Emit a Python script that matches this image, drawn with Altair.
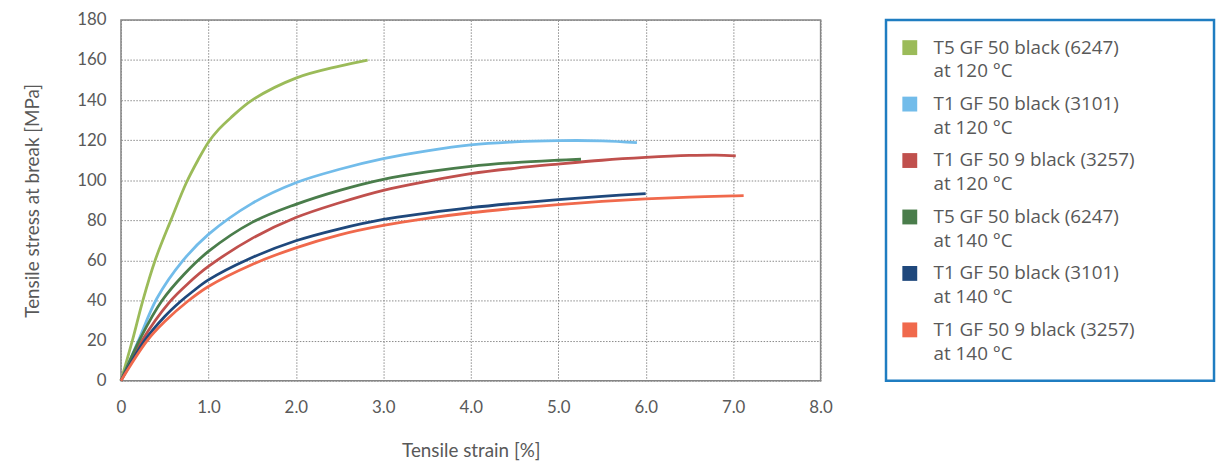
import altair as alt
import pandas as pd

# ---- data ----
series_names = [
    "T5 GF 50 black (6247) at 120 °C",
    "T1 GF 50 black (3101) at 120 °C",
    "T1 GF 50 9 black (3257) at 120 °C",
    "T5 GF 50 black (6247) at 140 °C",
    "T1 GF 50 black (3101) at 140 °C",
    "T1 GF 50 9 black (3257) at 140 °C",
]
legend_line1 = [
    "T5 GF 50 black (6247)",
    "T1 GF 50 black (3101)",
    "T1 GF 50 9 black (3257)",
    "T5 GF 50 black (6247)",
    "T1 GF 50 black (3101)",
    "T1 GF 50 9 black (3257)",
]
legend_line2 = ["at 120 °C", "at 120 °C", "at 120 °C", "at 140 °C", "at 140 °C", "at 140 °C"]
colors = ["#9BBB59", "#72BCEA", "#C0504D", "#4A7D4B", "#1F487C", "#F0694C"]

t5_120_x = [0, 0.13, 0.25, 0.39, 0.57, 0.75, 0.88, 1.0, 1.12, 1.25, 1.5, 2.0, 2.5, 2.82]
t5_120_y = [0, 20, 40, 60, 80, 99, 110, 119, 125.5, 131, 140, 151, 157, 160]

t1_120_x = [0, 0.2, 0.41, 0.71, 1.0, 1.5, 2.0, 2.5, 3.0, 3.5, 4.0, 4.5, 5.0, 5.5, 5.9]
t1_120_y = [0, 20, 41, 60, 73, 88.5, 98.8, 105.5, 110.8, 114.7, 117.7, 119.2, 119.8, 119.7, 118.8]

t19_120_x = [0, 0.24, 0.55, 0.78, 1.0, 1.5, 2.0, 2.5, 3.0, 3.5, 4.0, 4.5, 5.0, 5.5, 6.0, 6.5, 6.8, 7.03]
t19_120_y = [0, 20, 39, 49, 57, 71, 81.4, 88.8, 95, 99.5, 103.3, 106, 108.1, 110, 111.4, 112.4, 112.6, 112.2]

t5_140_x = [0, 0.22, 0.47, 0.72, 1.0, 1.5, 2.0, 2.5, 3.0, 3.5, 4.0, 4.5, 5.0, 5.26]
t5_140_y = [0, 21, 40, 53, 64.5, 79, 88, 95, 100.5, 104.2, 107, 108.8, 110, 110.5]

t1_140_x = [0, 0.27, 0.5, 0.68, 0.82, 1.0, 1.45, 2.0, 2.5, 3.0, 3.5, 4.0, 4.5, 5.0, 5.5, 6.0]
t1_140_y = [0, 20, 32, 39.5, 44.5, 50.3, 60.5, 69.8, 75.8, 80.5, 83.6, 86.3, 88.5, 90.4, 92, 93.4]

t19_140_x = [0, 0.30, 0.5, 0.76, 1.0, 1.5, 2.0, 2.5, 3.0, 3.5, 4.0, 4.5, 5.0, 5.5, 6.0, 6.5, 7.0, 7.12]
t19_140_y = [0, 20, 29.5, 39.5, 47, 58, 66.3, 72.8, 77.5, 81, 83.8, 86, 87.9, 89.5, 90.7, 91.6, 92.2, 92.3]

x_ticks = [0, 1, 2, 3, 4, 5, 6, 7, 8]
y_ticks = [0, 20, 40, 60, 80, 100, 120, 140, 160, 180]

xs = [t5_120_x, t1_120_x, t19_120_x, t5_140_x, t1_140_x, t19_140_x]
ys = [t5_120_y, t1_120_y, t19_120_y, t5_140_y, t1_140_y, t19_140_y]

rows = []
for name, sx, sy in zip(series_names, xs, ys):
    for i, (a, b) in enumerate(zip(sx, sy)):
        rows.append({"series": name, "strain": a, "stress": b, "order": i})
df = pd.DataFrame(rows)

legend_df = pd.DataFrame({
    "series": series_names,
    "idx": list(range(6)),
    "label": [a + "\n" + b for a, b in zip(legend_line1, legend_line2)],
})

TXT = "#595959"
AX_FONT = "Lato"
LEG_FONT = "Open Sans"

color_scale = alt.Scale(domain=series_names, range=colors)

grid_kw = dict(grid=True, gridColor="#8a8a8a", gridDash=[1.5, 1.5], gridWidth=1,
               ticks=False, tickSize=0, domain=False,
               labelFont=AX_FONT, labelFontSize=17, labelColor=TXT,
               titleFont=AX_FONT, titleFontSize=19, titleColor=TXT,
               titleFontWeight="normal")

lines = alt.Chart(df).mark_line(strokeWidth=2.8, interpolate="catmull-rom").encode(
    x=alt.X("strain:Q",
            scale=alt.Scale(domain=[0, 8], nice=False),
            axis=alt.Axis(values=x_ticks, title="Tensile strain [%]",
                          labelExpr="datum.value == 0 ? '0' : format(datum.value, '.1f')",
                          labelFlush=False, labelPadding=19, titlePadding=27, **grid_kw)),
    y=alt.Y("stress:Q",
            scale=alt.Scale(domain=[0, 180], nice=False),
            axis=alt.Axis(values=y_ticks, title="Tensile stress at break [MPa]",
                          labelFlush=False, labelPadding=15, titlePadding=35, **grid_kw)),
    color=alt.Color("series:N", scale=color_scale, legend=None),
    order="order:Q",
).properties(
    width=706, height=364,
    view=alt.ViewBackground(stroke="#858585", strokeWidth=1.5),
)

leg_y = alt.Y("idx:Q", scale=alt.Scale(domain=[-0.49, 5.9], reverse=True, nice=False), axis=None)

squares = alt.Chart(legend_df).mark_square(size=225, opacity=1).encode(
    x=alt.value(24),
    y=leg_y,
    color=alt.Color("series:N", scale=color_scale, legend=None),
)
texts = alt.Chart(legend_df).mark_text(
    align="left", baseline="middle", lineBreak="\n", lineHeight=24,
    font=LEG_FONT, fontSize=19, color=TXT,
).encode(
    x=alt.value(48),
    y=leg_y,
    text="label:N",
)
legend_panel = alt.layer(squares, texts).properties(
    width=331, height=364,
    view=alt.ViewBackground(stroke="#1F7DC1", strokeWidth=2.5),
)

chart = alt.hconcat(lines, legend_panel, spacing=66, bounds="flush").properties(
    padding={"left": 14, "top": 0, "right": 0, "bottom": 0},
).configure_view(stroke=None)

chart.save("out.html", embed_options={"renderer": "svg", "actions": False})
